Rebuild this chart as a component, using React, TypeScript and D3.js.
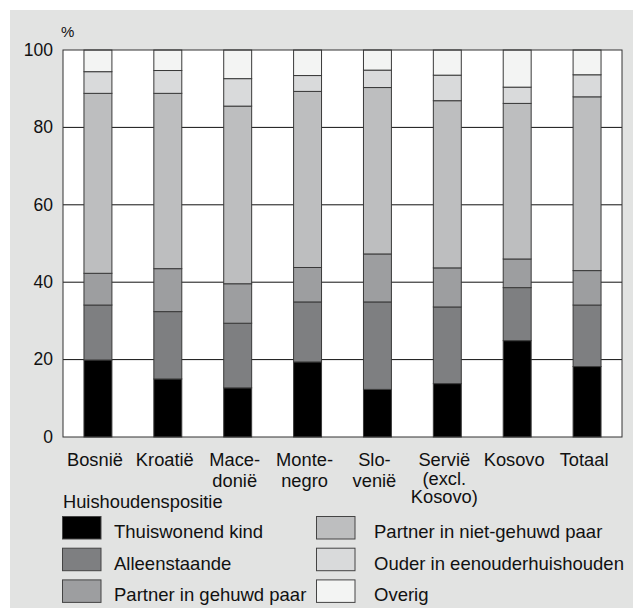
import * as d3 from 'd3';

const WIDTH = 633;
const HEIGHT = 608;
const MARGIN = { top: 50, right: 11, bottom: 171, left: 63 };

const categories = [
    ['Bosnië'],
    ['Kroatië'],
    ['Mace-', 'donië'],
    ['Monte-', 'negro'],
    ['Slo-', 'venië'],
    ['Servië', '(excl.', 'Kosovo)'],
    ['Kosovo'],
    ['Totaal'],
];

const seriesNames = [
    'Thuiswonend kind',
    'Alleenstaande',
    'Partner in gehuwd paar',
    'Partner in niet-gehuwd paar',
    'Ouder in eenouderhuishouden',
    'Overig',
];

const thuiswonendKind = [19.9, 15.0, 12.7, 19.4, 12.3, 13.8, 24.9, 18.2];
const alleenstaande = [14.2, 17.4, 16.7, 15.5, 22.6, 19.8, 13.7, 15.9];
const gehuwdPaar = [8.2, 11.1, 10.2, 8.9, 12.4, 10.1, 7.4, 8.9];
const nietGehuwdPaar = [46.5, 45.3, 45.9, 45.5, 43.0, 43.2, 40.2, 44.9];
const eenouder = [5.6, 5.9, 7.1, 4.1, 4.5, 6.6, 4.2, 5.7];
const overig = [5.6, 5.3, 7.4, 6.6, 5.2, 6.5, 9.6, 6.4];

const yTicks = [0, 20, 40, 60, 80, 100];

const COLORS = ['#000000', '#7e7f81', '#9d9ea0', '#bdbebf', '#d9dadb', '#f3f4f3'];
const FONT = '"Liberation Sans", Arial, Helvetica, sans-serif';

export default function App() {
    const boundsWidth = WIDTH - MARGIN.left - MARGIN.right;
    const boundsHeight = HEIGHT - MARGIN.top - MARGIN.bottom;

    const keys = categories.map((c) => c.join(''));
    const rows = keys.map((k, i) => ({
        key: k,
        s0: thuiswonendKind[i],
        s1: alleenstaande[i],
        s2: gehuwdPaar[i],
        s3: nietGehuwdPaar[i],
        s4: eenouder[i],
        s5: overig[i],
    }));

    const xScale = d3.scaleBand().domain(keys).range([0, boundsWidth]).paddingInner(0.6).paddingOuter(0.3);
    const yScale = d3.scaleLinear().domain([0, 100]).range([boundsHeight, 0]);

    const stack = d3.stack<any>().keys(['s0', 's1', 's2', 's3', 's4', 's5']);
    const layers = stack(rows);

    // label line offsets (3-line label is set tighter)
    const lineDy = (n: number, j: number) => (j === 0 ? 0 : n > 2 ? 18.5 : 21);

    return (
        <div style={{ position: 'absolute', left: 0, top: 0 }}>
            <svg width={WIDTH} height={HEIGHT} style={{ display: 'block', fontFamily: FONT }}>
                <rect x={10} y={10} width={WIDTH - 10} height={HEIGHT - 10} fill="#e2e3e2" />
                <text x={61} y={37} fontSize={15} fill="#111">%</text>
                <g transform={`translate(${MARGIN.left},${MARGIN.top})`}>
                    <rect x={0} y={0} width={boundsWidth} height={boundsHeight} fill="#ffffff" />
                    {yTicks.map((t) => (
                        <g key={t}>
                            {t > 0 && t < 100 && (
                                <line x1={0} x2={boundsWidth} y1={yScale(t)} y2={yScale(t)} stroke="#111" strokeWidth={1} />
                            )}
                            <text x={-10} y={yScale(t)} dy="0.33em" textAnchor="end" fontSize={17.5} fill="#111">
                                {t}
                            </text>
                        </g>
                    ))}
                    {layers.map((layer, li) => (
                        <g key={li}>
                            {layer.map((d, i) => (
                                <rect
                                    key={i}
                                    x={xScale(keys[i])}
                                    y={yScale(d[1])}
                                    width={xScale.bandwidth()}
                                    height={yScale(d[0]) - yScale(d[1])}
                                    fill={COLORS[li]}
                                    stroke="#3a3a3a"
                                    strokeWidth={1}
                                />
                            ))}
                        </g>
                    ))}
                    <rect x={0} y={0} width={boundsWidth} height={boundsHeight} fill="none" stroke="#333" strokeWidth={1} />
                    {categories.map((lines, i) => {
                        const cx = (xScale(keys[i]) ?? 0) + xScale.bandwidth() / 2 - 3;
                        return (
                            <text key={i} x={cx} y={boundsHeight + 29} textAnchor="middle" fontSize={18.3} fill="#111">
                                {lines.map((l, j) => (
                                    <tspan key={j} x={cx} dy={lineDy(lines.length, j)}>
                                        {l}
                                    </tspan>
                                ))}
                            </text>
                        );
                    })}
                </g>
                <text x={63} y={508} fontSize={18.3} fill="#111">Huishoudenspositie</text>
                {seriesNames.map((name, i) => {
                    const col = Math.floor(i / 3);
                    const row = i % 3;
                    const sx = col === 0 ? 62.5 : 316.5;
                    const sy = 516.5 + row * 31.7;
                    return (
                        <g key={name}>
                            <rect x={sx} y={sy} width={38.5} height={22.5} fill={COLORS[i]} stroke="#444" strokeWidth={1} />
                            <text x={col === 0 ? 114 : 374} y={sy + 21.5} fontSize={18.5} fill="#111">
                                {name}
                            </text>
                        </g>
                    );
                })}
            </svg>
        </div>
    );
}
